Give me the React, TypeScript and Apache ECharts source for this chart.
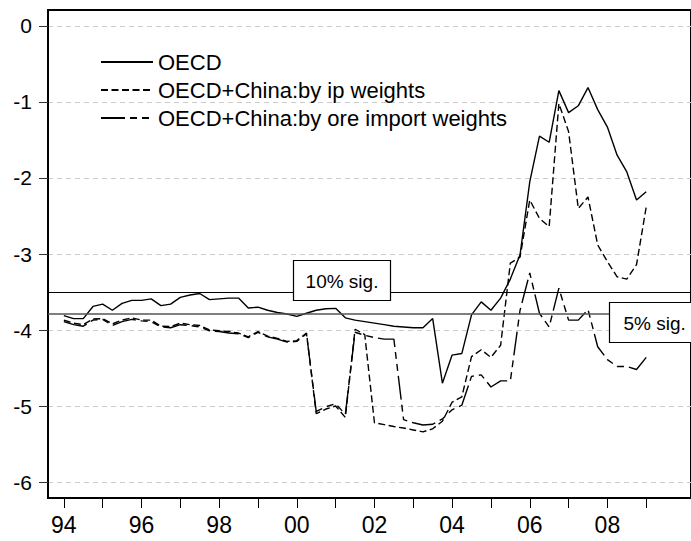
import React, { useEffect, useRef } from "react";
import * as echarts from "echarts";

const FONT = "'Liberation Sans', Arial, Helvetica, sans-serif";
const START_YEAR = 1994;

const SERIES_NAMES = [
  "OECD",
  "OECD+China:by ip weights",
  "OECD+China:by ore import weights",
];

// Quarterly values, 1994Q1 .. 2009Q1
const OECD = [
  -3.81, -3.85, -3.85, -3.69, -3.66, -3.74, -3.65, -3.61, -3.61, -3.59,
  -3.68, -3.66, -3.57, -3.54, -3.52, -3.6, -3.59, -3.58, -3.58, -3.71,
  -3.7, -3.74, -3.77, -3.79, -3.82, -3.78, -3.74, -3.72, -3.715, -3.84,
  -3.87, -3.89, -3.91, -3.93, -3.95, -3.96, -3.97, -3.97, -3.85, -4.7,
  -4.33, -4.31, -3.8, -3.63, -3.74, -3.58, -3.33, -3.01, -2.05, -1.45,
  -1.53, -0.85, -1.14, -1.05, -0.81, -1.1, -1.33, -1.7, -1.92, -2.29,
  -2.18,
];

const IP = [
  -3.87, -3.91, -3.93, -3.855, -3.85, -3.92, -3.87, -3.84, -3.87, -3.87,
  -3.95, -3.955, -3.91, -3.93, -3.94, -4.0, -4.01, -4.02, -4.04, -4.09,
  -4.02, -4.08, -4.11, -4.15, -4.14, -4.04, -5.1, -5.04, -5.0, -5.15,
  -3.99, -4.06, -5.22, -5.245, -5.27, -5.29, -5.315, -5.34, -5.3, -5.2,
  -4.95, -4.88, -4.35, -4.26, -4.36, -4.2, -3.12, -3.04, -2.29, -2.53,
  -2.64, -1.02, -1.39, -2.4, -2.25, -2.88, -3.1, -3.3, -3.33, -3.14,
  -2.38,
];

const ORE = [
  -3.89, -3.93, -3.95, -3.87, -3.86, -3.94, -3.89, -3.86, -3.88, -3.89,
  -3.96, -3.97, -3.93, -3.94, -3.96, -4.01, -4.02, -4.04, -4.05, -4.1,
  -4.03, -4.09, -4.12, -4.16, -4.15, -4.05, -5.07, -5.01, -4.97, -5.11,
  -4.03, -4.07, -4.1, -4.12, -4.12, -5.18, -5.22, -5.25, -5.24, -5.17,
  -5.05, -4.99, -4.61, -4.59, -4.75, -4.67, -4.67, -3.74, -3.25, -3.78,
  -3.96, -3.45, -3.87, -3.87, -3.73, -4.22, -4.39, -4.48, -4.48, -4.52,
  -4.36,
];

const Y_TICKS = [0, -1, -2, -3, -4, -5, -6];
const X_TICKS = [
  1994, 1995, 1996, 1997, 1998, 1999, 2000, 2001, 2002, 2003, 2004, 2005,
  2006, 2007, 2008, 2009,
];
const X_LABELS = [1994, 1996, 1998, 2000, 2002, 2004, 2006, 2008];

const SIG_10 = -3.5;
const SIG_5 = -3.78;
const SIG_LABELS = ["10% sig.", "5% sig."];

const toXY = (vals: number[]) =>
  vals.map((v, i) => [START_YEAR + i / 4, v]);

export default function App() {
  const ref = useRef<HTMLDivElement>(null);

  useEffect(() => {
    if (!ref.current) return;
    const chart = echarts.init(ref.current, undefined, { renderer: "svg" });
    const lineBase = { color: "#000", width: 1.4 };
    chart.setOption({
      animation: false,
      backgroundColor: "#fff",
      color: ["#000", "#000", "#000"],
      textStyle: { fontFamily: FONT },
      grid: {
        left: 48,
        top: 10,
        width: 650,
        height: 488,
        show: true,
        borderColor: "#000",
        borderWidth: 2,
      },
      legend: {
        orient: "vertical",
        left: 100,
        top: 51,
        padding: 0,
        itemWidth: 52,
        itemHeight: 14,
        itemGap: 6,
        selectedMode: false,
        itemStyle: { opacity: 0 },
        textStyle: {
          fontSize: 22,
          lineHeight: 21,
          color: "#000",
          fontFamily: FONT,
        },
        data: SERIES_NAMES,
      },
      xAxis: {
        type: "value",
        min: 1993.592,
        max: 2010.153,
        axisLine: {
          show: true,
          onZero: false,
          lineStyle: { color: "#000", width: 2 },
        },
        axisTick: {
          show: true,
          customValues: X_TICKS,
          length: 10,
          lineStyle: { color: "#000", width: 1 },
        },
        axisLabel: {
          customValues: X_LABELS,
          formatter: (v: number) => String(v % 100).padStart(2, "0"),
          fontSize: 23,
          color: "#000",
          margin: 15,
          fontFamily: FONT,
        },
        splitLine: { show: false },
      },
      yAxis: {
        type: "value",
        min: -6.2105,
        max: 0.2105,
        axisLine: { show: true, lineStyle: { color: "#000", width: 2 } },
        axisTick: {
          show: true,
          customValues: Y_TICKS,
          length: 9,
          lineStyle: { color: "#333", width: 1 },
        },
        axisLabel: {
          customValues: Y_TICKS,
          fontSize: 21,
          margin: 16,
          color: "#000",
          fontFamily: FONT,
        },
        splitLine: {
          show: true,
          lineStyle: { color: "#cccccc", type: [5, 4], width: 1 },
        },
      },
      series: [
        {
          name: SERIES_NAMES[0],
          type: "line",
          symbol: "none",
          z: 4,
          itemStyle: { color: "#000" },
          data: toXY(OECD),
          lineStyle: { ...lineBase, type: "solid" },
          markLine: {
            silent: true,
            symbol: "none",
            label: { show: false },
            data: [
              { yAxis: SIG_10, lineStyle: { color: "#000", width: 1, type: "solid" } },
              { yAxis: SIG_5, lineStyle: { color: "#555", width: 1.5, type: "solid" } },
            ],
          },
        },
        {
          name: SERIES_NAMES[1],
          type: "line",
          symbol: "none",
          z: 3,
          itemStyle: { color: "#000" },
          data: toXY(IP),
          lineStyle: { ...lineBase, type: [7, 3.5] },
        },
        {
          name: SERIES_NAMES[2],
          type: "line",
          symbol: "none",
          z: 3,
          itemStyle: { color: "#000" },
          data: toXY(ORE),
          lineStyle: { ...lineBase, type: [24, 5, 7, 5, 7, 5] },
        },
      ],
      graphic: [
        {
          type: "rect",
          z: 100,
          shape: { x: 293.5, y: 260.5, width: 97, height: 40 },
          style: { fill: "#fff", stroke: "#000", lineWidth: 1.2 },
        },
        {
          type: "text",
          z: 101,
          x: 342,
          y: 281,
          style: {
            text: SIG_LABELS[0],
            font: `19px ${FONT}`,
            fill: "#000",
            align: "center",
            verticalAlign: "middle",
          },
        },
        {
          type: "rect",
          z: 100,
          shape: { x: 609.5, y: 302.5, width: 120, height: 40 },
          style: { fill: "#fff", stroke: "#000", lineWidth: 1.2 },
        },
        {
          type: "text",
          z: 101,
          x: 623.5,
          y: 323,
          style: {
            text: SIG_LABELS[1],
            font: `19px ${FONT}`,
            fill: "#000",
            align: "left",
            verticalAlign: "middle",
          },
        },
      ],
    });
    return () => chart.dispose();
  }, []);

  return (
    <div
      ref={ref}
      style={{
        position: "absolute",
        left: 0,
        top: 0,
        width: 691,
        height: 541,
        background: "#fff",
      }}
    />
  );
}
